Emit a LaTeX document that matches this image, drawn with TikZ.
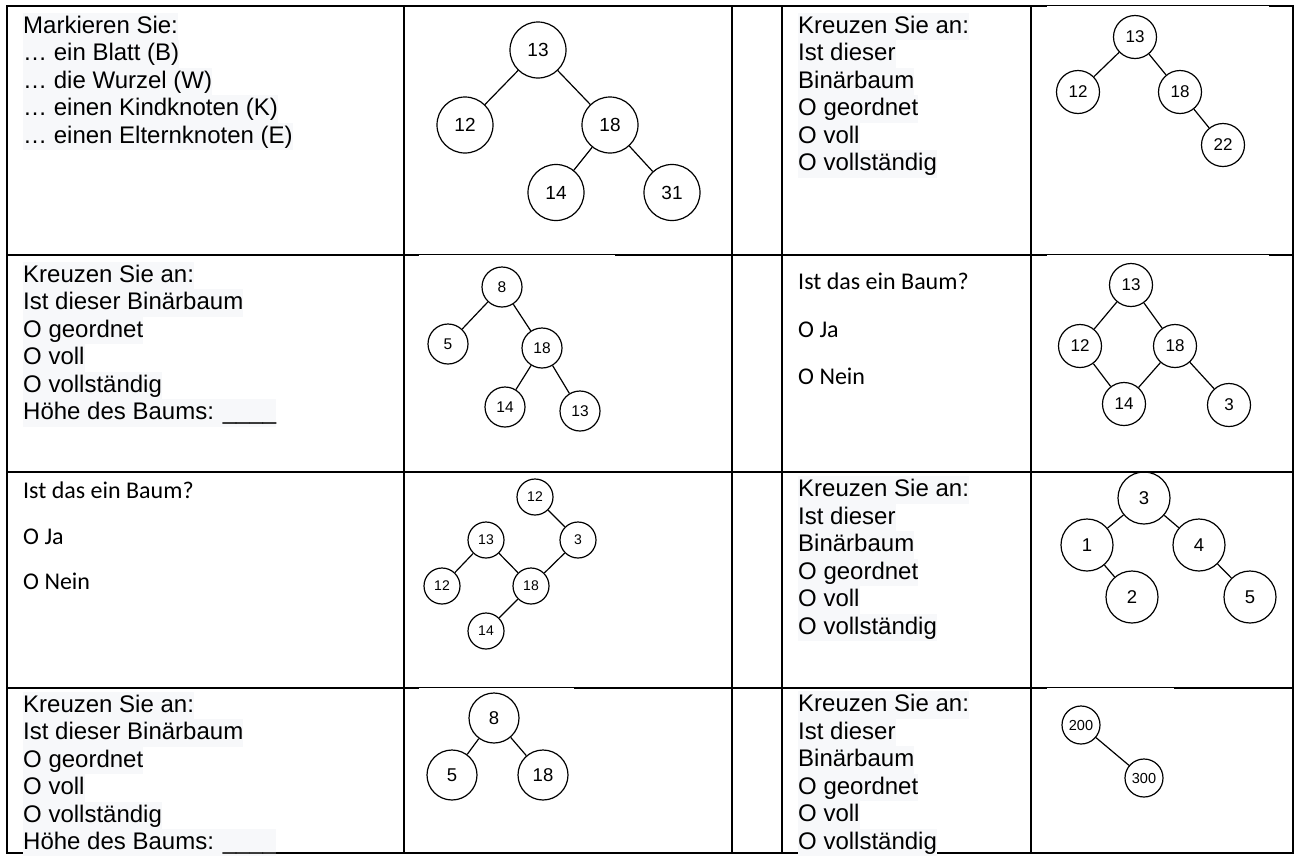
\documentclass[tikz,border=0pt]{standalone}
\usepackage{fontspec}
\setmainfont{Liberation Sans}
\newfontfamily\calfont{Carlito}
\definecolor{hl}{RGB}{247,248,250}
\tikzset{
  gridline/.style={line width=2.6pt, line cap=rect},
  imgcover/.style={fill=white, draw=none},
  ar/.style={font=\fontsize{24}{27.5}\selectfont, anchor=base west, inner xsep=0pt, inner ysep=0pt, text height=20.5pt, text depth=7pt, fill=hl},
  ca/.style={font=\calfont\fontsize{24}{28}\selectfont, anchor=base west, inner sep=0pt},
  tn/.style={circle, draw, line width=1.2pt, inner sep=0pt, minimum size=#1},
  tedge/.style={line width=1.2pt},
  tA/.style={tn=56, font=\fontsize{19}{19}\selectfont},
  tB/.style={tn=43, font=\fontsize{17}{17}\selectfont},
  tC/.style={tn=40, font=\fontsize{15.5}{15.5}\selectfont},
  tE/.style={tn=36, font=\fontsize{14}{14}\selectfont},
  tF/.style={tn=52, font=\fontsize{18.5}{18.5}\selectfont},
  tG/.style={tn=50, font=\fontsize{18.5}{18.5}\selectfont},
  tH/.style={tn=38, font=\fontsize{14.5}{14.5}\selectfont},
}
\begin{document}
\begin{tikzpicture}[x=1pt, y=-1pt]
\useasboundingbox (0,0) rectangle (1298,855);
\fill[white] (0,0) rectangle (1298,855);

% table grid
\draw[gridline] (7,6) rectangle (1293,853);
\foreach \yy in {255,472,688} \draw[gridline] (7,\yy) -- (1293,\yy);
\foreach \xx in {404,732,782,1031} \draw[gridline] (\xx,6) -- (\xx,853);

% white picture areas overlapping the rules
\path[imgcover] (1047,6.2) rectangle (1269,8);
\path[imgcover] (419,255.2) rectangle (615,257);
\path[imgcover] (1047,255.2) rectangle (1269,257);
\path[imgcover] (419,688.2) rectangle (574,690);
\path[imgcover] (1047,688.2) rectangle (1174,690);

% ---------- row 1 left text
\node[ar] (l1a) at (23,33) {Markieren Sie:};
\node[ar] (l1b) at (23,60.5) {… ein Blatt (B)};
\node[ar] (l1c) at (23,88) {… die Wurzel (W)};
\node[ar] (l1d) at (23,115.5) {… einen Kindknoten (K)};
\node[ar] (l1e) at (23,143) {… einen Elternknoten (E)};

% tree A
\node[tA] (a13) at (538,50) {13};
\node[tA] (a12) at (465,125) {12};
\node[tA] (a18) at (610,125) {18};
\node[tA] (a14) at (556,192.5) {14};
\node[tA] (a31) at (672,192.5) {31};
\draw[tedge] (a13) -- (a12);
\draw[tedge] (a13) -- (a18);
\draw[tedge] (a18) -- (a14);
\draw[tedge] (a18) -- (a31);

% ---------- row 1 right text
\node[ar] (r1a) at (798,33) {Kreuzen Sie an:};
\node[ar] (r1b) at (798,60.5) {Ist dieser};
\node[ar] (r1c) at (798,88) {Binärbaum\ };
\node[ar] (r1d) at (798,115.5) {O geordnet};
\node[ar] (r1e) at (798,143) {O voll};
\node[ar] (r1f) at (798,170.5) {O vollständig};

% tree B
\node[tB] (b13) at (1135,37) {13};
\node[tB] (b12) at (1078,92) {12};
\node[tB] (b18) at (1180,92) {18};
\node[tB] (b22) at (1223,145) {22};
\draw[tedge] (b13) -- (b12);
\draw[tedge] (b13) -- (b18);
\draw[tedge] (b18) -- (b22);

% ---------- row 2 left text
\node[ar] (l2a) at (23,282) {Kreuzen Sie an:};
\node[ar] (l2b) at (23,309.5) {Ist dieser Binärbaum\ };
\node[ar] (l2c) at (23,337) {O geordnet};
\node[ar] (l2d) at (23,364.5) {O voll};
\node[ar] (l2e) at (23,392) {O vollständig};
\node[ar] (l2f) at (23,419.5) {Höhe des Baums: \_\_\_\_};

% tree C
\node[tC] (c8) at (502,287) {8};
\node[tC] (c5) at (448,344) {5};
\node[tC] (c18) at (542,348) {18};
\node[tC] (c14) at (505,407) {14};
\node[tC] (c13) at (580,411) {13};
\draw[tedge] (c8) -- (c5);
\draw[tedge] (c8) -- (c18);
\draw[tedge] (c18) -- (c14);
\draw[tedge] (c18) -- (c13);

% ---------- row 2 right text
\node[ca] (r2a) at (798,289) {Ist das ein Baum?};
\node[ca] (r2b) at (798,337) {O Ja};
\node[ca] (r2c) at (798,384) {O Nein};

% tree D
\node[tB] (d13) at (1131,285) {13};
\node[tB] (d12) at (1080,346) {12};
\node[tB] (d18) at (1175,346) {18};
\node[tB] (d14) at (1124,404) {14};
\node[tB] (d3) at (1229,405) {3};
\draw[tedge] (d13) -- (d12);
\draw[tedge] (d13) -- (d18);
\draw[tedge] (d12) -- (d14);
\draw[tedge] (d18) -- (d14);
\draw[tedge] (d18) -- (d3);

% ---------- row 3 left text
\node[ca] (l3a) at (23,498) {Ist das ein Baum?};
\node[ca] (l3b) at (23,544) {O Ja};
\node[ca] (l3c) at (23,589) {O Nein};

% tree E
\node[tE] (e12t) at (535,497) {12};
\node[tE] (e13) at (486,540) {13};
\node[tE] (e3) at (578,540) {3};
\node[tE] (e12l) at (442,586) {12};
\node[tE] (e18) at (531,586) {18};
\node[tE] (e14) at (486,631) {14};
\draw[tedge] (e12t) -- (e3);
\draw[tedge] (e13) -- (e12l);
\draw[tedge] (e13) -- (e18);
\draw[tedge] (e3) -- (e18);
\draw[tedge] (e18) -- (e14);

% ---------- row 3 right text
\node[ar] (r3a) at (798,496.5) {Kreuzen Sie an:};
\node[ar] (r3b) at (798,524) {Ist dieser};
\node[ar] (r3c) at (798,551.5) {Binärbaum\ };
\node[ar] (r3d) at (798,579) {O geordnet};
\node[ar] (r3e) at (798,606.5) {O voll};
\node[ar] (r3f) at (798,634) {O vollständig};

% tree F
\node[tF] (f3) at (1144,498) {3};
\node[tF] (f1) at (1087,545) {1};
\node[tF] (f4) at (1199,545) {4};
\node[tF] (f2) at (1132,597) {2};
\node[tF] (f5) at (1250,597) {5};
\draw[tedge] (f3) -- (f1);
\draw[tedge] (f3) -- (f4);
\draw[tedge] (f1) -- (f2);
\draw[tedge] (f4) -- (f5);

% ---------- row 4 left text
\node[ar] (l4a) at (23,712) {Kreuzen Sie an:};
\node[ar] (l4b) at (23,739.5) {Ist dieser Binärbaum\ };
\node[ar] (l4c) at (23,767) {O geordnet};
\node[ar] (l4d) at (23,794.5) {O voll};
\node[ar] (l4e) at (23,822) {O vollständig};
\node[ar] (l4f) at (23,849.5) {Höhe des Baums: \_\_\_\_};

% tree G
\node[tG] (g8) at (494,718) {8};
\node[tG] (g5) at (452,775) {5};
\node[tG] (g18) at (543,775) {18};
\draw[tedge] (g8) -- (g5);
\draw[tedge] (g8) -- (g18);

% ---------- row 4 right text
\node[ar] (r4a) at (798,711.5) {Kreuzen Sie an:};
\node[ar] (r4b) at (798,739) {Ist dieser};
\node[ar] (r4c) at (798,766.5) {Binärbaum\ };
\node[ar] (r4d) at (798,794) {O geordnet};
\node[ar] (r4e) at (798,821.5) {O voll};
\node[ar] (r4f) at (798,849) {O vollständig};

% tree H
\node[tH] (h200) at (1081,725) {200};
\node[tH] (h300) at (1144,778) {300};
\draw[tedge] (h200) -- (h300);

\end{tikzpicture}
\end{document}
